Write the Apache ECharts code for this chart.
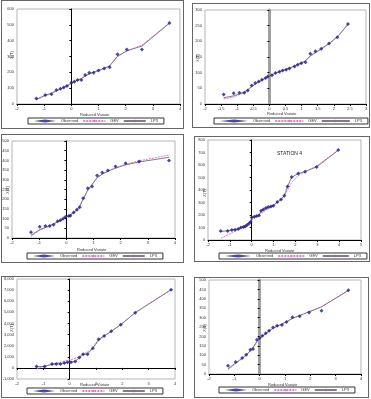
<!DOCTYPE html>
<html lang="en">
<head>
<meta charset="utf-8">
<title>Frequency curves</title>
<script src="https://cdn.jsdelivr.net/npm/echarts@6/dist/echarts.min.js"></script>
<style>
  body { margin: 0; background: #fff; width: 371px; height: 399px; position: relative; overflow: hidden; }
  .panel { position: absolute; outline: 1px solid #666; background: #fff; }
</style>
</head>
<body>
<div id="p1" class="panel" style="left:2px;top:1px;width:181px;height:127px"></div>
<div id="p2" class="panel" style="left:193px;top:4px;width:176px;height:123px"></div>
<div id="p3" class="panel" style="left:2px;top:135px;width:181px;height:127px"></div>
<div id="p4" class="panel" style="left:195px;top:137px;width:174px;height:124px"></div>
<div id="p5" class="panel" style="left:2px;top:277px;width:181px;height:120px"></div>
<div id="p6" class="panel" style="left:195px;top:278px;width:173px;height:119px"></div>

<script>
// legend / axis texts
const seriesNames = ['Observed', 'GEV', 'LP3'];
const xName = 'Reduced Variate';
const yName = 'X(T)';

// panel 1
const rv1  = [-1.29, -0.96, -0.73, -0.55, -0.40, -0.28, -0.16, 0.00, 0.11, 0.23, 0.37, 0.51, 0.66, 0.82, 1.00, 1.21, 1.41, 1.70, 2.04, 2.60, 3.61];
const obs1 = [34, 57, 61, 88, 97, 105, 114, 135, 141, 152, 152, 183, 198, 198, 211, 225, 232, 314, 345, 345, 512];
const gev1 = [26, 52, 66, 82, 94, 104, 114, 130, 140, 150, 160, 176, 190, 200, 212, 225, 242, 300, 334, 372, 512];
const lp1  = [30, 55, 68, 84, 95, 105, 115, 131, 141, 151, 161, 177, 191, 201, 212, 225, 240, 302, 336, 366, 510];

// panel 2
const rv2  = [-1.42, -1.11, -0.93, -0.78, -0.67, -0.55, -0.44, -0.33, -0.23, -0.12, -0.05, 0.08, 0.19, 0.31, 0.41, 0.52, 0.62, 0.78, 0.88, 0.99, 1.12, 1.27, 1.43, 1.61, 1.85, 2.11, 2.44];
const obs2 = [30, 34, 36, 36, 43, 59, 67, 72, 77, 83, 88, 92, 99, 103, 107, 109, 113, 120, 125, 130, 133, 160, 168, 176, 193, 213, 255];
const gev2 = [16, 22, 30, 36, 44, 55, 63, 70, 76, 82, 87, 93, 98, 102, 106, 110, 114, 121, 126, 131, 138, 152, 163, 175, 192, 214, 255];
const lp2  = [20, 26, 32, 38, 46, 56, 64, 71, 77, 83, 88, 93, 99, 103, 107, 111, 115, 121, 126, 131, 137, 154, 164, 176, 193, 214, 254];

// panel 3
const rv3  = [-1.30, -0.98, -0.77, -0.61, -0.47, -0.32, -0.22, -0.12, -0.04, 0.09, 0.15, 0.27, 0.39, 0.49, 0.62, 0.79, 0.95, 1.13, 1.32, 1.53, 1.81, 2.18, 2.68, 3.78];
const obs3 = [29, 58, 62, 62, 68, 86, 91, 99, 108, 113, 115, 132, 146, 158, 205, 257, 265, 322, 337, 348, 368, 385, 394, 399];
const gev3 = [9, 40, 52, 62, 72, 82, 90, 98, 106, 114, 118, 130, 146, 162, 200, 245, 275, 312, 330, 345, 362, 380, 398, 428];
const lp3  = [14, 43, 55, 64, 73, 83, 90, 98, 106, 114, 118, 131, 147, 162, 202, 248, 276, 310, 329, 344, 360, 377, 392, 416];

// panel 4
const rv4  = [-1.42, -1.10, -0.91, -0.76, -0.61, -0.49, -0.38, -0.30, -0.21, -0.12, -0.05, 0.00, 0.12, 0.23, 0.33, 0.43, 0.53, 0.65, 0.76, 0.88, 0.99, 1.17, 1.34, 1.49, 1.64, 1.83, 2.13, 2.44, 2.97, 3.96];
const obs4 = [72, 72, 80, 83, 88, 101, 104, 109, 120, 133, 144, 181, 187, 192, 197, 235, 245, 256, 264, 269, 275, 304, 325, 355, 429, 504, 533, 547, 584, 720];
const gev4 = [13, 40, 58, 72, 86, 100, 112, 120, 130, 140, 150, 160, 176, 190, 202, 214, 226, 238, 250, 262, 272, 300, 325, 352, 400, 460, 515, 545, 592, 720];
const lp4  = [68, 74, 80, 84, 90, 100, 105, 110, 120, 133, 146, 178, 186, 192, 198, 233, 245, 255, 263, 270, 277, 304, 325, 356, 430, 502, 532, 548, 585, 718];

// panel 5
const rv5  = [-1.26, -0.95, -0.67, -0.51, -0.35, -0.20, -0.08, 0.05, 0.21, 0.37, 0.51, 0.68, 0.88, 1.10, 1.31, 1.58, 1.94, 2.49, 3.85];
const obs5 = [120, 120, 359, 359, 359, 449, 509, 509, 569, 928, 1228, 1228, 1766, 2575, 2874, 3293, 3892, 4970, 7036];
const gev5 = [-100, 150, 300, 420, 520, 600, 680, 750, 850, 1000, 1250, 1450, 1750, 2450, 2850, 3300, 3890, 4970, 7040];
const lp5  = [100, 130, 330, 350, 360, 440, 500, 520, 580, 920, 1220, 1240, 1800, 2560, 2880, 3290, 3890, 4970, 7040];

// panel 6
const rv6  = [-1.25, -0.95, -0.69, -0.53, -0.37, -0.26, -0.11, 0.00, 0.11, 0.24, 0.37, 0.53, 0.69, 0.88, 1.06, 1.29, 1.58, 1.95, 2.44, 3.50];
const obs6 = [44, 64, 85, 102, 129, 133, 182, 191, 203, 217, 230, 247, 256, 260, 276, 302, 307, 327, 337, 445];
const gev6 = [23, 55, 82, 100, 122, 140, 172, 187, 200, 214, 228, 243, 254, 265, 277, 295, 310, 330, 358, 445];
const lp6  = [28, 58, 84, 102, 124, 141, 173, 188, 201, 215, 229, 244, 255, 266, 278, 296, 311, 331, 357, 444];

// axis ranges [min, max, interval]
const xRange1 = [-2, 4, 1],   yRange1 = [0, 600, 100];
const xRange2 = [-2, 3, 0.5], yRange2 = [0, 300, 50];
const xRange3 = [-2, 4, 1],   yRange3 = [0, 500, 50];
const xRange4 = [-2, 5, 1],   yRange4 = [0, 800, 100];
const xRange5 = [-2, 4, 1],   yRange5 = [-1000, 8000, 1000];
const xRange6 = [-2, 4, 1],   yRange6 = [0, 500, 50];

const stationLabel = 'STATION 4';

function pairs(xs, ys) {
    return xs.map((x, i) => [x, ys[i]]);
}

function makePanel(id, rv, obs, gev, lp, xr, yr, lay) {
    const chart = echarts.init(document.getElementById(id), null, { renderer: 'canvas' });
    const graphics = [
        { type: 'text', left: lay.xName[0], top: lay.xName[1],
          style: { text: xName, fontSize: 4, fill: '#333', fontFamily: 'Liberation Sans' } },
        { type: 'text', x: lay.yName[0], y: lay.yName[1], rotation: Math.PI / 2,
          style: { text: yName, fontSize: 4, fill: '#333', fontFamily: 'Liberation Sans', align: 'center' } }
    ];
    if (lay.note) {
        graphics.push({ type: 'text', left: lay.note[0], top: lay.note[1],
            style: { text: stationLabel, fontSize: 5, fill: '#222', fontFamily: 'Liberation Sans' } });
    }
    chart.setOption({
        animation: false,
        backgroundColor: '#fff',
        textStyle: { fontFamily: 'Liberation Sans' },
        grid: {
            left: lay.grid[0], top: lay.grid[1], right: lay.grid[2], bottom: lay.grid[3],
            show: true, borderColor: '#b5b5b5', borderWidth: 1,
            outerBoundsMode: 'none'
        },
        legend: {
            data: [
                { name: seriesNames[0], icon: 'diamond' },
                { name: seriesNames[1] },
                { name: seriesNames[2] }
            ],
            left: lay.legend[0], top: lay.legend[1], width: 170,
            itemWidth: lay.legendItem, itemHeight: 3, itemGap: 4,
            padding: [1, 6],
            borderColor: '#333', borderWidth: 1,
            textStyle: { fontSize: 4, color: '#333' }
        },
        xAxis: {
            type: 'value', min: xr[0], max: xr[1], interval: xr[2],
            axisLine: { onZero: true, lineStyle: { color: '#000', width: 1 } },
            axisTick: { length: 2, lineStyle: { color: '#000' } },
            axisLabel: { fontSize: 4, color: '#333', margin: 3 },
            splitLine: { show: false }
        },
        yAxis: {
            type: 'value', min: yr[0], max: yr[1], interval: yr[2],
            axisLine: { show: true, onZero: true, lineStyle: { color: lay.yAxisColor, width: lay.yAxisWidth } },
            axisTick: { show: true, length: 2, lineStyle: { color: '#000' } },
            axisLabel: { fontSize: 4, color: '#333', margin: 3 },
            splitLine: { show: false }
        },
        graphic: graphics,
        series: [
            { name: seriesNames[0], type: 'scatter', data: pairs(rv, obs), symbol: 'diamond', symbolSize: 4,
              itemStyle: { color: '#1c1c8a' }, z: 3 },
            { name: seriesNames[1], type: 'line', data: pairs(rv, gev), symbol: 'none',
              lineStyle: { color: '#e37ac9', width: 1, type: [2, 1] }, itemStyle: { color: '#e37ac9' } },
            { name: seriesNames[2], type: 'line', data: pairs(rv, lp), symbol: 'none',
              lineStyle: { color: '#85788c', width: 1 }, itemStyle: { color: '#85788c' } }
        ]
    });
}

makePanel('p1', rv1, obs1, gev1, lp1, xRange1, yRange1,
    { grid: [15, 8, 3, 24], legend: [26, 117], legendItem: 22, xName: [78, 112], yName: [8, 54],
      yAxisColor: '#000', yAxisWidth: 1 });
makePanel('p2', rv2, obs2, gev2, lp2, xRange2, yRange2,
    { grid: [12, 6, 3, 23], legend: [21, 114], legendItem: 28, xName: [74, 108], yName: [3, 54],
      yAxisColor: '#a0a0a0', yAxisWidth: 3 });
makePanel('p3', rv3, obs3, gev3, lp3, xRange3, yRange3,
    { grid: [10, 6, 8, 24], legend: [25, 118], legendItem: 22, xName: [75, 113], yName: [4, 55],
      yAxisColor: '#000', yAxisWidth: 1 });
makePanel('p4', rv4, obs4, gev4, lp4, xRange4, yRange4,
    { grid: [13, 3, 8, 21], legend: [24, 116], legendItem: 26, xName: [70, 112], yName: [8, 56],
      yAxisColor: '#000', yAxisWidth: 1, note: [82, 14] });
makePanel('p5', rv5, obs5, gev5, lp5, xRange5, yRange5,
    { grid: [15, 2, 8, 18], legend: [25, 111], legendItem: 22, xName: [78, 106], yName: [8, 51],
      yAxisColor: '#000', yAxisWidth: 1 });
makePanel('p6', rv6, obs6, gev6, lp6, xRange6, yRange6,
    { grid: [14, 2, 7, 23], legend: [24, 109], legendItem: 22, xName: [73, 105], yName: [8, 50],
      yAxisColor: '#a0a0a0', yAxisWidth: 3 });
</script>
</body>
</html>
